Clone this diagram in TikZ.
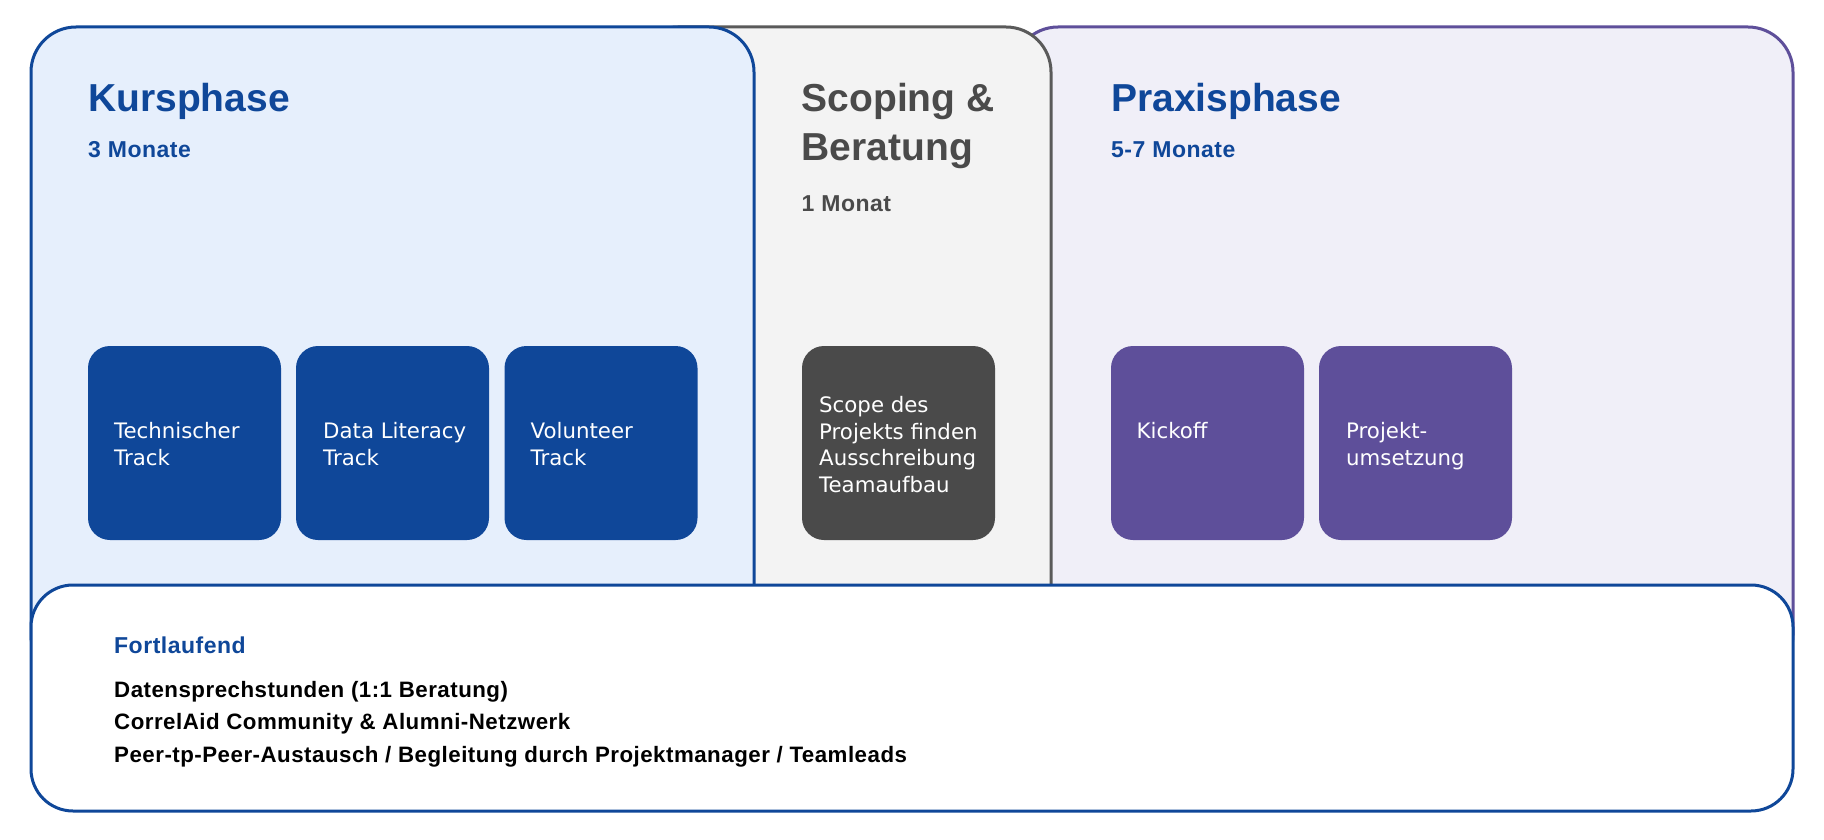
\documentclass[tikz,border=0pt]{standalone}
\usepackage{fontspec}
\setmainfont{DejaVu Sans}
\newfontfamily\bfam{Liberation Sans}
\newfontfamily\bfamw{Liberation Sans}[LetterSpace=2.2]
\definecolor{kblue}{HTML}{0F4799}
\definecolor{kfill}{HTML}{E6EFFC}
\definecolor{sgray}{HTML}{5A5A5A}
\definecolor{sfill}{HTML}{F3F3F3}
\definecolor{sbox}{HTML}{4A4A4A}
\definecolor{ppurple}{HTML}{5E4F9A}
\definecolor{pfill}{HTML}{F0EFF8}
\tikzset{
  panel/.style={line width=3pt, rounded corners=45pt},
  subbox/.style={rounded corners=22pt, draw=none, minimum width=193pt, minimum height=194pt, inner sep=0pt},
  boxtext/.style={anchor=base west, inner sep=0pt, text=white, align=left, font=\fontsize{21.3}{26.5}\selectfont},
  titletext/.style={anchor=base west, inner sep=0pt, align=left, font=\bfam\bfseries\fontsize{39}{48.5}\selectfont},
  subtext/.style={anchor=base west, inner sep=0pt, font=\bfamw\bfseries\fontsize{23}{26}\selectfont},
  itemtext/.style={anchor=base west, inner sep=0pt, align=left, text=black, font=\bfamw\bfseries\fontsize{22.3}{32.5}\selectfont},
}
\begin{document}
\begin{tikzpicture}[x=1pt,y=-1pt]
\useasboundingbox[fill=white] (0,0) rectangle (1824,840);
% panels
\draw[panel, draw=ppurple, fill=pfill] (1013,680) -- (1013,27) -- (1793,27) -- (1793,680) -- cycle;
\draw[panel, draw=sgray, fill=sfill] (633,680) -- (633,27) -- (1051,27) -- (1051,680) -- cycle;
\draw[panel, draw=kblue, fill=kfill] (31,680) -- (31,27) -- (754,27) -- (754,680) -- cycle;
% ongoing box
\node[draw=kblue, line width=3pt, fill=white, rounded corners=42pt, minimum width=1762pt, minimum height=226pt, inner sep=0pt] (fort) at (912,698) {};
% titles
\node[titletext, text=kblue] (kt) at (88,111.5) {Kursphase};
\node[subtext, text=kblue] (km) at (88,158) {3 Monate};
\node[titletext, text=sbox] (st) at (801.5,160.5) {Scoping \&\\Beratung};
\node[subtext, text=sbox] (sm) at (801.5,211.5) {1 Monat};
\node[titletext, text=kblue] (pt) at (1111,111.5) {Praxisphase};
\node[subtext, text=kblue] (pm) at (1111,158) {5-7 Monate};
% sub boxes
\node[subbox, fill=kblue] (t1) at (184.5,443) {};
\node[subbox, fill=kblue] (t2) at (392.5,443) {};
\node[subbox, fill=kblue] (t3) at (601,443) {};
\node[subbox, fill=sbox] (sc) at (898.5,443) {};
\node[subbox, fill=ppurple] (ko) at (1207.5,443) {};
\node[subbox, fill=ppurple] (pu) at (1415.5,443) {};
\node[boxtext] (t1t) at (114,465) {Technischer\\Track};
\node[boxtext] (t2t) at (323,465) {Data Literacy\\Track};
\node[boxtext] (t3t) at (530.5,465) {Volunteer\\Track};
\node[boxtext] (sct) at (819,492) {Scope des\\Projekts finden\\Ausschreibung\\Teamaufbau};
\node[boxtext] (kot) at (1136.5,438.6) {Kickoff};
\node[boxtext] (put) at (1346,465) {Projekt-\\umsetzung};
% ongoing text
\node[subtext, text=kblue] (ft) at (114,653) {Fortlaufend};
\node[itemtext] (fi) at (114,762) {Datensprechstunden (1:1 Beratung)\\CorrelAid Community \& Alumni-Netzwerk\\Peer-tp-Peer-Austausch / Begleitung durch Projektmanager / Teamleads};
\end{tikzpicture}
\end{document}
